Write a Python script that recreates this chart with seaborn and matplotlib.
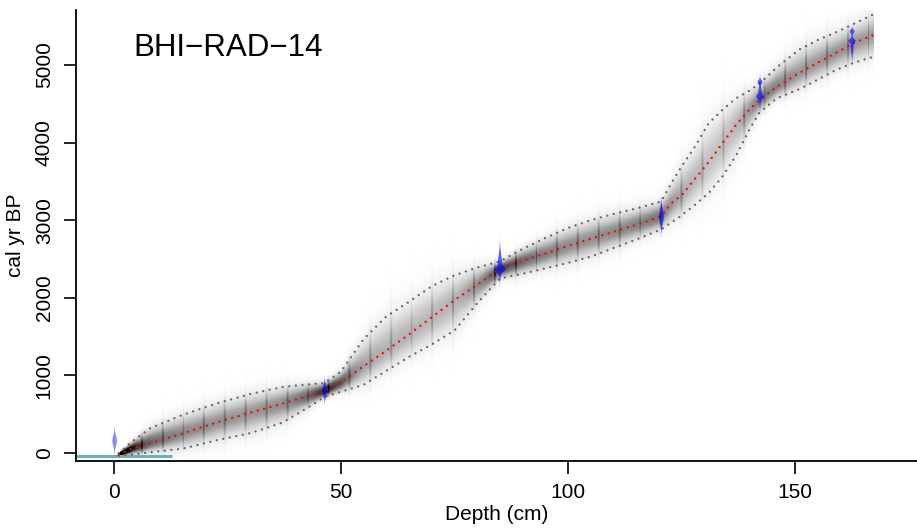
import numpy as np
import pandas as pd
import matplotlib
matplotlib.use("Agg")
import matplotlib.pyplot as plt
import seaborn as sns

# ---------------- data ----------------
title = "BHI\u2212RAD\u221214"
model_depth = [1, 4, 8, 15, 23, 30, 37, 42, 46.3, 50, 55, 60, 65, 70, 75, 80, 85, 90, 95, 100,
               105, 110, 115, 120.5, 123, 125, 128, 131, 134, 137, 140, 142.2, 146, 151, 155,
               159, 163, 167.5]
model_mean = [-20, 60, 125, 250, 400, 520, 635, 720, 795, 910, 1120, 1320, 1530, 1750, 1970,
              2170, 2375, 2480, 2570, 2670, 2760, 2850, 2940, 3050, 3230, 3320, 3535, 3750,
              3990, 4225, 4430, 4550, 4720, 4900, 5030, 5155, 5285, 5390]
model_upper = [0, 150, 320, 490, 645, 760, 850, 880, 900, 1050, 1470, 1760, 1950, 2150, 2290,
               2390, 2470, 2630, 2770, 2900, 3000, 3080, 3150, 3240, 3500, 3690, 3950, 4250,
               4420, 4570, 4670, 4760, 4970, 5200, 5320, 5420, 5530, 5660]
model_lower = [-35, -20, 10, 55, 170, 255, 390, 560, 720, 790, 880, 1060, 1240, 1400, 1580,
               1930, 2250, 2310, 2380, 2450, 2530, 2640, 2750, 2880, 2980, 3060, 3200, 3350,
               3560, 3830, 4170, 4390, 4570, 4690, 4810, 4935, 5030, 5110]

# dated levels: depth, peaks (age, sd, weight), max half width (cm), alpha
date_depth = [0.0, 46.3, 84.9, 120.5, 142.2, 162.5]
date_peaks = [
    [(165, 70, 1.0)],
    [(810, 65, 1.0)],
    [(2370, 30, 1.0), (2450, 115, 0.55)],
    [(3055, 90, 1.0)],
    [(4790, 22, 0.9), (4600, 26, 1.0), (4640, 95, 0.65)],
    [(5440, 22, 0.9), (5320, 18, 1.0), (5260, 90, 0.65)],
]
date_halfwidth = [0.5, 0.55, 1.2, 0.5, 0.8, 0.8]
date_alpha = [0.45, 0.62, 0.62, 0.62, 0.62, 0.62]

sampling_age = -40
sampling_depth_span = [-8.4, 12.8]
section_start, section_thick = 1.34, 4.58

x_ticks = [0, 50, 100, 150]
y_ticks = [0, 1000, 2000, 3000, 4000, 5000]
x_lim = (-8.4, 176.9)
y_lim = (-103, 5709)

# ---------------- figure ----------------
sns.set_theme(style="ticks")
plt.rcParams["font.family"] = ["Liberation Sans", "DejaVu Sans"]

fig = plt.figure(figsize=(9.17, 5.30), dpi=100)
ax = fig.add_axes([76 / 917, 69 / 530, 841 / 917, 451 / 530])

# grey-scale age-depth density
dgrid = np.arange(model_depth[0], model_depth[-1], 0.22)
agrid = np.arange(-150, 5800, 8.0)
m = np.interp(dgrid, model_depth, model_mean)
up = np.interp(dgrid, model_depth, model_upper)
lo = np.interp(dgrid, model_depth, model_lower)
sdu = np.maximum((up - m) / 1.96, 8)
sdl = np.maximum((m - lo) / 1.96, 8)
A = agrid[:, None]
z = np.where(A > m[None, :], (A - m[None, :]) / sdu[None, :], (A - m[None, :]) / sdl[None, :])
dens = np.exp(-0.5 * z ** 2) / (sdu + sdl)[None, :]
dark = np.clip((dens * 80) ** 0.6, 0, 1)
# section boundaries appear as darker columns
phase = np.abs(((dgrid - section_start) + section_thick / 2) % section_thick - section_thick / 2)
edge = phase < 0.2
dark[:, edge] = np.minimum(1, dark[:, edge] + 0.22 * np.sqrt(dark[:, edge]))
ax.imshow(dark, extent=[dgrid[0], dgrid[-1], agrid[0], agrid[-1]], origin="lower",
          cmap="Greys", vmin=0, vmax=1, aspect="auto", interpolation="bilinear", zorder=1)

# sampling-year line
ax.plot(sampling_depth_span, [sampling_age, sampling_age], color="#6cb4b4", lw=2.2,
        solid_capstyle="butt", zorder=2)

# model curves
df = pd.DataFrame({"depth": model_depth, "mean": model_mean,
                   "upper": model_upper, "lower": model_lower})
for col, colr in [("upper", "#666666"), ("lower", "#666666"), ("mean", "red")]:
    sns.lineplot(data=df, x="depth", y=col, ax=ax, color=colr, lw=1.7,
                 dashes=False, zorder=3)
for ln in ax.get_lines()[1:]:
    ln.set_dashes((0.01, 2.8))
    ln.set_dash_capstyle("round")

# calibrated dates
for d, peaks, hw, al in zip(date_depth, date_peaks, date_halfwidth, date_alpha):
    lo_a = min(p[0] - 3 * p[1] for p in peaks)
    hi_a = max(p[0] + 3 * p[1] for p in peaks)
    ages = np.linspace(lo_a, hi_a, 300)
    pdf = sum(w * np.exp(-0.5 * ((ages - a) / s) ** 2) for a, s, w in peaks)
    pdf = pdf / pdf.max() * hw
    ax.fill_betweenx(ages, d - pdf, d + pdf, color="blue", alpha=al, lw=0, zorder=4)

ax.set_xlim(*x_lim)
ax.set_ylim(*y_lim)
ax.set_xticks(x_ticks)
ax.set_yticks(y_ticks)
ax.set_xticklabels([str(v) for v in x_ticks])
ax.set_yticklabels([str(v) for v in y_ticks])
ax.tick_params(axis="both", length=9, width=1.2, color="black", labelsize=15,
               labelcolor="black", pad=7, direction="out")
ax.tick_params(axis="y", labelrotation=90)
for lab in ax.get_yticklabels():
    lab.set_va("center")
sns.despine(ax=ax)
for s in ["left", "bottom"]:
    ax.spines[s].set_linewidth(1.3)
    ax.spines[s].set_color("black")

ax.set_xlabel("Depth (cm)", fontsize=15, color="black")
ax.set_ylabel("cal yr BP", fontsize=15, color="black", va="center")
ax.xaxis.set_label_coords(0.5, -0.098)
ax.yaxis.set_label_coords(-0.0725, 0.5)

fig.text(133 / 917, (530 - 56) / 530, title, fontsize=22.5, ha="left", va="baseline",
         color="black")

fig.savefig("out.png", dpi=100, facecolor="white")
